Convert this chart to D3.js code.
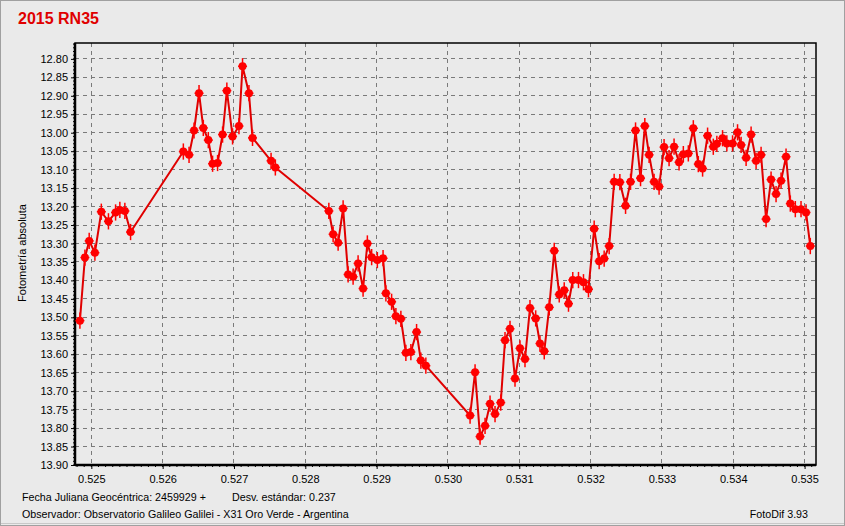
<!DOCTYPE html>
<html><head><meta charset="utf-8">
<script src="https://cdn.jsdelivr.net/npm/d3@7"></script>
<style>
html,body{margin:0;padding:0;background:#ebebeb;}
svg{display:block;font-family:"Liberation Sans",Arial,sans-serif;}
</style></head><body>
<svg id="c" width="845" height="526"></svg>
<script>
const title = "2015 RN35";
const yLabel = "Fotometría absoluta";
const footLeft1 = "Fecha Juliana Geocéntrica: 2459929 +";
const footMid1 = "Desv. estándar: 0.237";
const footLeft2 = "Observador: Observatorio Galileo Galilei - X31 Oro Verde - Argentina";
const footRight = "FotoDif 3.93";

const jdFraction = [
0.52484,0.52491,0.52497,0.52505,0.52514,0.52524,0.52534,0.52540,0.52547,0.52555,
0.52629,0.52637,0.52644,0.52651,0.52657,0.52664,0.52670,0.52677,0.52684,0.52690,0.52698,0.52707,0.52712,0.52721,0.52726,0.52752,0.52758,
0.52833,0.52839,0.52846,0.52853,0.52860,0.52867,0.52874,0.52881,0.52887,0.52893,0.52901,0.52909,0.52913,0.52921,0.52927,0.52934,0.52941,0.52948,0.52956,0.52962,0.52969,
0.53031,0.53038,0.53045,0.53052,0.53059,0.53066,0.53074,0.53080,0.53087,0.53094,0.53101,0.53108,0.53115,0.53123,0.53129,0.53135,0.53142,0.53149,0.53156,0.53163,0.53169,0.53175,0.53183,0.53190,0.53197,
0.53205,0.53212,0.53219,0.53226,0.53233,0.53241,0.53249,0.53256,0.53263,0.53270,0.53276,0.53282,0.53289,0.53296,0.53303,0.53310,0.53317,0.53324,0.53330,0.53337,0.53344,0.53351,0.53357,0.53364,
0.53372,0.53377,0.53385,0.53391,0.53399,0.53406,0.53411,0.53418,0.53425,0.53432,0.53439,0.53446,0.53453,0.53460,0.53467,0.53474,0.53480,0.53487,0.53495,0.53502,0.53508
];
const magnitude = [
13.509,13.338,13.293,13.325,13.214,13.240,13.216,13.209,13.212,13.269,
13.051,13.060,12.994,12.893,12.987,13.020,13.084,13.082,13.005,12.886,13.010,12.982,12.820,12.893,13.014,13.076,13.094,
13.212,13.275,13.298,13.205,13.384,13.390,13.354,13.422,13.300,13.337,13.345,13.340,13.435,13.458,13.497,13.504,13.596,13.594,13.540,13.617,13.631,
13.766,13.649,13.823,13.794,13.734,13.762,13.731,13.562,13.531,13.666,13.584,13.613,13.475,13.503,13.571,13.592,13.473,13.320,13.438,13.427,13.463,13.399,13.399,13.405,13.424,
13.260,13.348,13.341,13.307,13.133,13.134,13.198,13.133,12.994,13.123,12.982,13.060,13.133,13.146,13.039,13.069,13.038,13.080,13.058,13.056,12.988,13.085,13.097,13.008,
13.038,13.030,13.015,13.029,13.029,12.999,13.033,13.068,13.005,13.076,13.060,13.234,13.127,13.166,13.130,13.065,13.192,13.207,13.207,13.216,13.307
];
const errorMag = 0.022;

const xTicks = [0.525,0.526,0.527,0.528,0.529,0.530,0.531,0.532,0.533,0.534,0.535];
const yTicks = [12.80,12.85,12.90,12.95,13.00,13.05,13.10,13.15,13.20,13.25,13.30,13.35,13.40,13.45,13.50,13.55,13.60,13.65,13.70,13.75,13.80,13.85,13.90];

const W = 845, H = 526;
const plot = {l:75, t:43, r:816, b:465};
const svg = d3.select("#c");

svg.append("rect").attr("x",0.5).attr("y",0.5).attr("width",W-1).attr("height",H-1)
  .attr("fill","#eaeaea").attr("stroke","#a0a0a0").attr("stroke-width",1);
svg.append("line").attr("x1",1).attr("x2",W-1).attr("y1",H-2.5).attr("y2",H-2.5).attr("stroke","#c8c8c8");

const x = d3.scaleLinear().domain([0.524771, 0.53516]).range([plot.l, plot.r]);
const y = d3.scaleLinear().domain([12.757, 13.90]).range([plot.t, plot.b]);

// grid
const grid = svg.append("g");
grid.selectAll("line.v").data(xTicks).join("line")
  .attr("x1",d=>x(d)).attr("x2",d=>x(d)).attr("y1",plot.t).attr("y2",plot.b)
  .attr("stroke","#7a7a7a").attr("stroke-dasharray","4,4").attr("stroke-width",1)
  .attr("shape-rendering","crispEdges");
grid.selectAll("line.h").data(yTicks).join("line")
  .attr("x1",plot.l).attr("x2",plot.r).attr("y1",d=>y(d)).attr("y2",d=>y(d))
  .attr("stroke","#7a7a7a").attr("stroke-dasharray","4,4").attr("stroke-width",1)
  .attr("shape-rendering","crispEdges");

// axes
const xAxis = d3.axisBottom(x).tickValues(xTicks).tickFormat(d3.format(".3f")).tickSize(4).tickPadding(6);
const gx = svg.append("g").attr("transform",`translate(0,${plot.b})`).call(xAxis);
const yAxis = d3.axisLeft(y).tickValues(yTicks).tickFormat(d3.format(".2f")).tickSize(4).tickPadding(3);
const gy = svg.append("g").attr("transform",`translate(${plot.l},0)`).call(yAxis);
[gx,gy].forEach(g=>{
  g.select(".domain").remove();
  g.selectAll(".tick line").attr("stroke","#000");
  g.selectAll(".tick text").attr("fill","#000").style("font-size","11px")
    .style("font-family","'Liberation Sans',Arial,sans-serif");
});

// minor ticks
const xMinor = d3.range(Math.ceil(x.domain()[0]*10000), Math.floor(x.domain()[1]*10000)+1).map(v=>v/10000);
svg.append("g").selectAll("line").data(xMinor).join("line")
  .attr("x1",d=>x(d)).attr("x2",d=>x(d)).attr("y1",plot.b).attr("y2",plot.b+2)
  .attr("stroke","#000").attr("stroke-width",1);
const yMinor = d3.range(Math.ceil(y.domain()[0]*100), Math.floor(y.domain()[1]*100)+1).map(v=>v/100);
svg.append("g").selectAll("line").data(yMinor).join("line")
  .attr("x1",plot.l-2).attr("x2",plot.l).attr("y1",d=>y(d)).attr("y2",d=>y(d))
  .attr("stroke","#000").attr("stroke-width",1);

// frame
svg.append("rect").attr("x",plot.l).attr("y",plot.t).attr("width",plot.r-plot.l).attr("height",plot.b-plot.t)
  .attr("fill","none").attr("stroke","#000").attr("stroke-width",1.5);
svg.append("line").attr("x1",plot.l).attr("x2",plot.l).attr("y1",plot.t).attr("y2",plot.b+1)
  .attr("stroke","#000").attr("stroke-width",2.5);
svg.append("line").attr("x1",plot.l).attr("x2",plot.r).attr("y1",plot.b).attr("y2",plot.b)
  .attr("stroke","#000").attr("stroke-width",2.5);

// data
const data = jdFraction.map((d,i)=>({x:d, m:magnitude[i]}));
const line = d3.line().x(d=>x(d.x)).y(d=>y(d.m));
svg.append("path").datum(data).attr("d",line)
  .attr("fill","none").attr("stroke","#e00000").attr("stroke-width",2).attr("stroke-linejoin","round");

const pts = svg.append("g").selectAll("g").data(data).join("g");
pts.append("line").attr("x1",d=>x(d.x)).attr("x2",d=>x(d.x))
  .attr("y1",d=>y(d.m-errorMag)).attr("y2",d=>y(d.m+errorMag))
  .attr("stroke","#f00").attr("stroke-width",1.5);
pts.append("line").attr("x1",d=>x(d.x)-4.5).attr("x2",d=>x(d.x)+4.5)
  .attr("y1",d=>y(d.m)).attr("y2",d=>y(d.m))
  .attr("stroke","#f00").attr("stroke-width",1.5);
pts.append("circle").attr("cx",d=>x(d.x)).attr("cy",d=>y(d.m)).attr("r",4)
  .attr("fill","#f00");

// texts
svg.append("text").attr("x",18).attr("y",24).text(title)
  .attr("fill","#e00000").style("font-size","16px").style("font-weight","bold");
svg.append("text").attr("transform",`translate(26,253) rotate(-90)`).attr("text-anchor","middle")
  .text(yLabel).style("font-size","11px").attr("fill","#000");
svg.append("text").attr("x",22).attr("y",501).text(footLeft1).style("font-size","10.7px");
svg.append("text").attr("x",232).attr("y",501).text(footMid1).style("font-size","10.7px");
svg.append("text").attr("x",22).attr("y",518).text(footLeft2).style("font-size","10.7px");
svg.append("text").attr("x",808).attr("y",518).attr("text-anchor","end").text(footRight).style("font-size","10.7px");
</script>
</body></html>
